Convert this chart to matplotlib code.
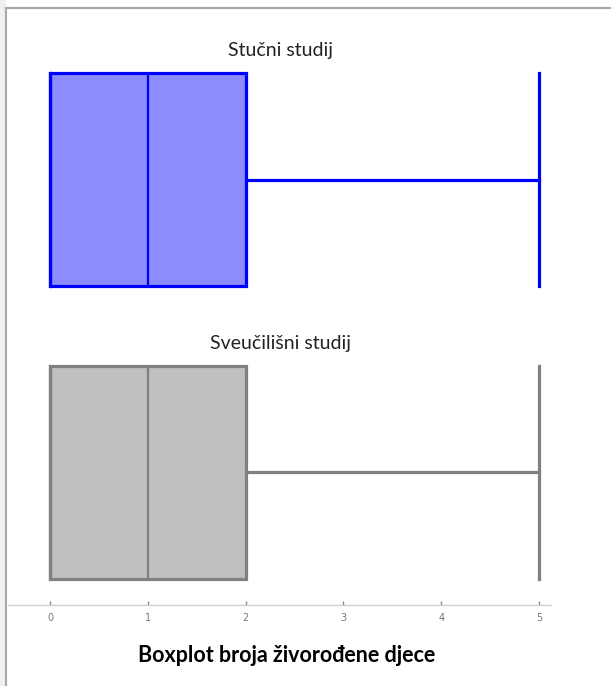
import matplotlib
matplotlib.use("Agg")
import matplotlib.pyplot as plt
from matplotlib.lines import Line2D
from matplotlib.patches import Rectangle

# five-number summaries
groups = ["Stučni studij", "Sveučilišni studij"]
mins = [0, 0]
q1s = [0, 0]
medians = [1, 1]
q3s = [2, 2]
maxs = [5, 5]
ticks = [0, 1, 2, 3, 4, 5]
title = "Boxplot broja živorođene djece"

fills = ["#8c8cff", "#c0c0c0"]
edges = ["#0000ff", "#808080"]

W, H = 611, 686
fig = plt.figure(figsize=(W/100, H/100), dpi=100)
fig.patch.set_facecolor("white")

# screenshot frame
fig.patches.append(Rectangle((0, 0), 6/W, 1, transform=fig.transFigure,
                             facecolor="#f0f0f0", edgecolor="none", zorder=0))
fig.lines.append(Line2D([6/W, 6/W], [0, 1-8/H], transform=fig.transFigure,
                        color="#a8a8a8", lw=1.5))
fig.lines.append(Line2D([6/W, 1], [1-8/H, 1-8/H], transform=fig.transFigure,
                        color="#a8a8a8", lw=1.5))

# axes: px 8..551 horizontally, 8..605 vertically
ax = fig.add_axes([8/W, 1-605/H, (551-8)/W, (605-8)/H])
ax.set_facecolor("none")
ppu = (539-50)/5
ax.set_xlim((8-50)/ppu, (551-50)/ppu)
ax.set_ylim(605, 8)

centers = [179.5, 472]
box_h = 213
for i, g in enumerate(groups):
    st = [dict(whislo=mins[i], q1=q1s[i], med=medians[i], q3=q3s[i],
               whishi=maxs[i], fliers=[], label=g)]
    ax.bxp(st, positions=[centers[i]], widths=box_h, capwidths=box_h,
           orientation="horizontal", patch_artist=True, manage_ticks=False,
           boxprops=dict(facecolor=fills[i], edgecolor=edges[i], linewidth=2.3),
           medianprops=dict(color=edges[i], linewidth=1.6),
           whiskerprops=dict(color=edges[i], linewidth=2.3),
           capprops=dict(color=edges[i], linewidth=2.3))
    ax.text(280/W, 1-(centers[i]-box_h/2-14)/H, g, ha="center", va="bottom",
            fontsize=14, family="Lato", color="#222222",
            transform=fig.transFigure)

for s in ["top", "left", "right"]:
    ax.spines[s].set_visible(False)
ax.spines["bottom"].set_color("#d0d0d0")
ax.spines["bottom"].set_linewidth(1)
ax.set_yticks([])
ax.set_xticks(ticks)
ax.set_xticklabels([str(t) for t in ticks])
ax.tick_params(axis="x", direction="in", length=3, width=1, color="#888888",
               labelsize=7, labelcolor="#777777", pad=6)
fig.text(287/W, 1-655/H, title, ha="center", va="center", fontsize=15.5,
         fontweight="bold", family="Lato", color="black")

fig.savefig("out.png", dpi=100)
